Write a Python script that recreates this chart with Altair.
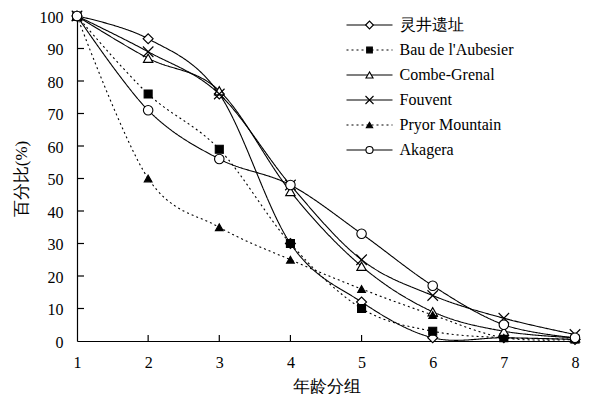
import altair as alt
import pandas as pd

# ---- data ----
groups = [1, 2, 3, 4, 5, 6, 7, 8]
series = ["灵井遗址", "Bau de l'Aubesier", "Combe-Grenal", "Fouvent", "Pryor Mountain", "Akagera"]
lingjing = [100, 93, 76, 30, 12, 1, 1, 0.5]
bau = [100, 76, 59, 30, 10, 3, 1, 0.6]
combe = [100, 87, 77, 46, 23, 9, 3, 1]
fouvent = [100, 89, 76, 48, 25, 14, 7, 2]
pryor = [100, 50, 35, 25, 16, 8, 1, 0.5]
akagera = [100, 71, 56, 48, 33, 17, 5, 1]
y_ticks = list(range(0, 101, 10))

values = [lingjing, bau, combe, fouvent, pryor, akagera]
rows = []
for name, vals in zip(series, values):
    for g, v in zip(groups, vals):
        rows.append({"series": name, "group": g, "value": v})
df = pd.DataFrame(rows)
ticks_y = pd.DataFrame({"value": y_ticks[1:-1]})
ticks_x = pd.DataFrame({"group": groups[1:-1]})
legend_df = pd.DataFrame({"series": series})

FONT = "Liberation Serif"
W, H = 498, 325

x_scale = alt.Scale(domain=[1, 8], nice=False, zero=False)
y_scale = alt.Scale(domain=[0, 100], nice=False)

XMARK = "M-1,-1L1,1M-1,1L1,-1"
# (shape, plot size, legend size, filled, fill, dotted)
style = {
    "灵井遗址": ("diamond", 100, 60, True, "white", False),
    "Bau de l'Aubesier": ("square", 64, 32, True, "black", True),
    "Combe-Grenal": ("triangle-up", 90, 50, True, "white", False),
    "Fouvent": (XMARK, 110, 64, False, None, False),
    "Pryor Mountain": ("triangle-up", 60, 40, True, "black", True),
    "Akagera": ("circle", 90, 50, True, "white", False),
}
dashes = [[1, 0] if not style[s][5] else [2, 3] for s in series]

x_axis = alt.Axis(
    title="年龄分组", values=groups, format="d", tickSize=0, labelPadding=13, titlePadding=8,
    domainColor="black", domainWidth=1.2, grid=False, labelFontSize=16, titleFontSize=17,
    titleFontWeight="normal", labelFont=FONT, titleFont=FONT, labelColor="black",
    titleColor="black", labelFlush=False, labelOverlap=False,
)
y_axis = alt.Axis(
    title="百分比(%)", values=y_ticks, tickSize=0, labelPadding=14, titlePadding=9,
    domainColor="black", domainWidth=1.2, grid=False, labelFontSize=16, titleFontSize=17,
    titleFontWeight="normal", labelFont=FONT, titleFont=FONT, labelColor="black",
    titleColor="black", labelOffset=1, labelOverlap=False,
)

lines = alt.Chart(df).mark_line(interpolate="cardinal", color="black", strokeWidth=1.1).encode(
    x=alt.X("group:Q", scale=x_scale, axis=x_axis),
    y=alt.Y("value:Q", scale=y_scale, axis=y_axis),
    detail="series:N",
    strokeDash=alt.StrokeDash("series:N", scale=alt.Scale(domain=series, range=dashes), legend=None),
)

# inward tick marks
ytick_layer = alt.Chart(ticks_y).mark_rule(color="black", strokeWidth=1.2).encode(
    y=alt.Y("value:Q", scale=y_scale, axis=None), x=alt.value(0), x2=alt.value(7)
)
xtick_layer = alt.Chart(ticks_x).mark_rule(color="black", strokeWidth=1.2).encode(
    x=alt.X("group:Q", scale=x_scale, axis=None), y=alt.value(H), y2=alt.value(H - 6)
)

layers = [lines, ytick_layer, xtick_layer]
for name in series:
    shape, size, _, filled, fill, _ = style[name]
    kw = dict(shape=shape, size=size, filled=filled, stroke="black", strokeWidth=1.1, opacity=1)
    if filled:
        kw["fill"] = fill
    layers.append(
        alt.Chart(df).transform_filter(alt.datum.series == name).mark_point(**kw).encode(
            x=alt.X("group:Q", scale=x_scale, axis=None),
            y=alt.Y("value:Q", scale=y_scale, axis=None),
        )
    )

# hand-built legend (line + marker + label), top right of the plot
LX, LY0, LSTEP = 292.5, 9, 25
for i, name in enumerate(series):
    shape, _, lsize, filled, fill, dotted = style[name]
    yy = LY0 + i * LSTEP
    sub = alt.Chart(legend_df).transform_filter(alt.datum.series == name)
    rule_kw = dict(color="black", strokeWidth=1.1)
    if dotted:
        rule_kw["strokeDash"] = [2, 3]
    layers.append(sub.mark_rule(**rule_kw).encode(
        x=alt.value(LX - 23), x2=alt.value(LX + 23), y=alt.value(yy)))
    kw = dict(shape=shape, size=lsize, filled=filled, stroke="black", strokeWidth=1.1, opacity=1)
    if filled:
        kw["fill"] = fill
    layers.append(sub.mark_point(**kw).encode(x=alt.value(LX), y=alt.value(yy)))
    layers.append(sub.mark_text(align="left", baseline="middle", font=FONT, fontSize=16,
                                color="black").encode(
        x=alt.value(LX + 30), y=alt.value(yy), text="series:N"))

chart = alt.layer(*layers).resolve_axis(
    x="independent", y="independent"
).properties(
    width=W,
    height=H,
    autosize=alt.AutoSizeParams(type="none"),
    padding={"left": 69, "top": 8, "right": 6, "bottom": 53},
).configure_view(stroke=None)

chart.save("out.html", embed_options={"renderer": "svg", "actions": False})
